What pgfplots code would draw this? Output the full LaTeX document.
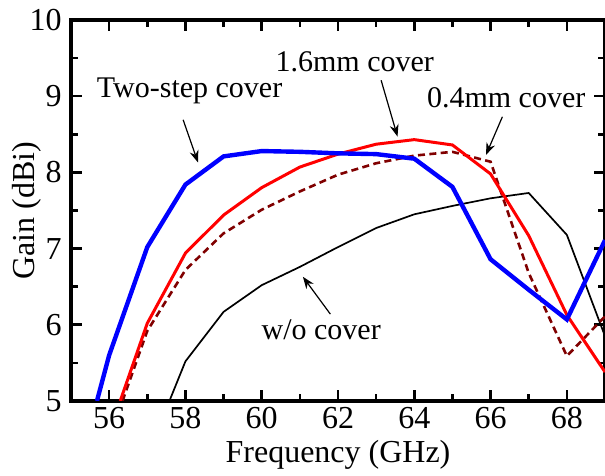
\documentclass[border=0pt]{standalone}
\usepackage{fontspec}
\setmainfont{Liberation Serif}
\usepackage{pgfplots}
\pgfplotsset{compat=1.18}
\usetikzlibrary{arrows.meta,calc}
\definecolor{mblue}{RGB}{0,0,255}
\definecolor{mred}{RGB}{255,0,0}
\definecolor{mdark}{RGB}{128,0,0}
\begin{document}
\begin{tikzpicture}
\begin{axis}[
  scale only axis,
  width=267pt, height=190.5pt,
  xmin=55, xmax=69, ymin=5, ymax=10,
  xtick={56,58,...,68}, minor xtick={55,57,...,69},
  ytick={5,6,...,10}, minor ytick={5.5,6.5,...,9.5},
  tick align=inside,
  major tick length=5.5pt, minor tick length=3.5pt,
  every tick/.style={black, line width=1.3pt},
  axis line style={line width=1.6pt},
  /pgf/number format/assume math mode=true,
  tick label style={font=\fontsize{16}{18}\selectfont, inner sep=1pt},
  xticklabel style={yshift=-2pt},
  yticklabel style={xshift=-3.5pt},
  label style={font=\fontsize{16}{18}\selectfont},
  xlabel={Frequency (GHz)},
  ylabel={Gain (dBi)},
  xlabel style={at={(axis description cs:0.5,0)}, anchor=north, yshift=-16.2pt},
  ylabel style={at={(axis description cs:0,0.5)}, anchor=south, yshift=11.2pt},
  clip=true,
]
\addplot[black, line width=0.85pt] coordinates {
(57.58,5.0) (58,5.52) (59,6.17) (60,6.52) (61,6.76) (62,7.02) (63,7.27) (64,7.45) (65,7.56) (66,7.66) (67,7.73) (68,7.18) (69,5.85)};
\addplot[mdark, line width=1.3pt, dash pattern=on 3.5pt off 2.2pt] coordinates {
(56.35,5.0) (57,5.92) (58,6.72) (59,7.20) (60,7.51) (61,7.75) (62,7.97) (63,8.12) (64,8.22) (65,8.27) (66,8.14) (67,6.68) (68,5.59) (69,6.11)};
\addplot[mred, line width=1.5pt] coordinates {
(56.29,5.0) (57,6.02) (58,6.94) (59,7.44) (60,7.80) (61,8.07) (62,8.24) (63,8.37) (64,8.43) (65,8.36) (66,7.98) (67,7.17) (68,6.13) (69,5.38)};
\addplot[mblue, line width=2.2pt] coordinates {
(55.68,5.0) (56,5.60) (57,7.02) (58,7.84) (59,8.21) (60,8.28) (61,8.27) (62,8.25) (63,8.24) (64,8.18) (65,7.81) (66,6.86) (67,6.46) (68,6.07) (69,7.11)};
\begin{scope}[font=\fontsize{15}{17}\selectfont]
\node at (axis cs:58.11,9.07) {Two-step cover};
\node at (axis cs:62.44,9.45) {1.6mm cover};
\node at (axis cs:66.41,8.98) {0.4mm cover};
\node at (axis cs:61.56,5.93) {w/o cover};
\end{scope}
\begin{scope}[line width=0.6pt, -{Stealth[length=6pt,width=4.5pt]}]
\draw (axis cs:57.94,8.69) -- (axis cs:58.33,8.13);
\draw (axis cs:63.13,9.21) -- (axis cs:63.56,8.47);
\draw (axis cs:66.31,8.73) -- (axis cs:65.88,8.23);
\draw (axis cs:61.80,6.14) -- (axis cs:61.08,6.63);
\end{scope}
\end{axis}
\pgfresetboundingbox
\path[use as bounding box] ($(current axis.south west)+(-35.5pt,-37.5pt)$) rectangle ($(current axis.north east)+(0pt,10pt)$);
\end{tikzpicture}
\end{document}
